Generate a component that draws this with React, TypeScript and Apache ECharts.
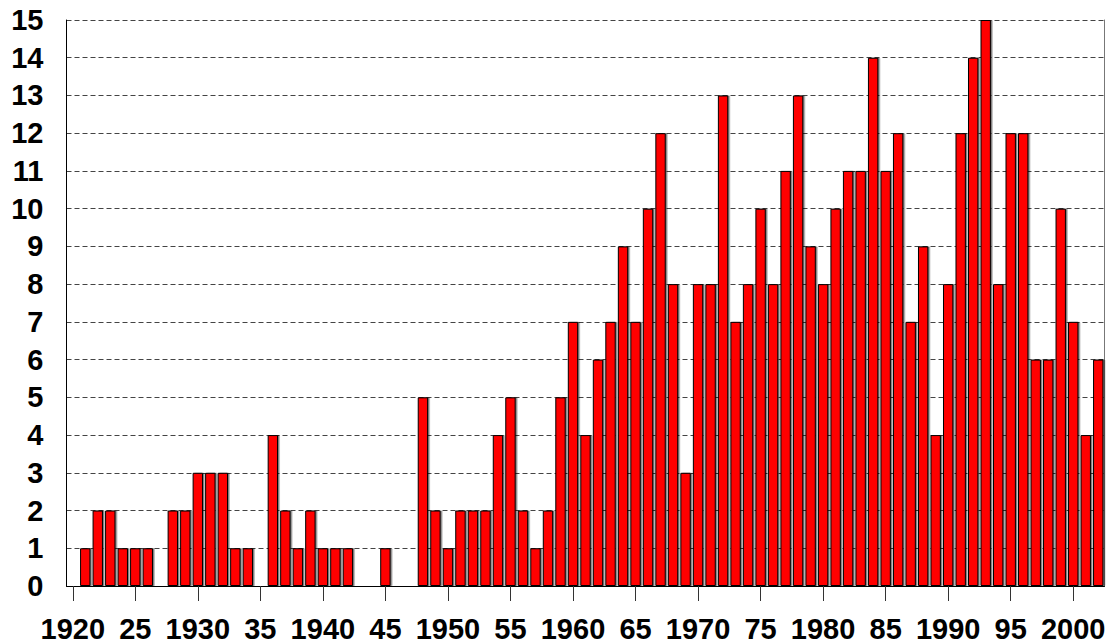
import React, { useEffect, useRef } from "react";
import * as echarts from "echarts";

const years: number[] = [];
for (let y = 1920; y <= 2002; y++) years.push(y);

const counts: number[] = [
  0, 1, 2, 2, 1, 1, 1, 0, 2, 2, // 1920-1929
  3, 3, 3, 1, 1, 0, 4, 2, 1, 2, // 1930-1939
  1, 1, 1, 0, 0, 1, 0, 0, 5, 2, // 1940-1949
  1, 2, 2, 2, 4, 5, 2, 1, 2, 5, // 1950-1959
  7, 4, 6, 7, 9, 7, 10, 12, 8, 3, // 1960-1969
  8, 8, 13, 7, 8, 10, 8, 11, 13, 9, // 1970-1979
  8, 10, 11, 11, 14, 11, 12, 7, 9, 4, // 1980-1989
  8, 12, 14, 15, 8, 12, 12, 6, 6, 10, // 1990-1999
  7, 4, 6, // 2000-2002
];

const yTicks = { min: 0, max: 15, interval: 1 };

const FONT = "'Liberation Sans', Arial, sans-serif";

export default function App() {
  const ref = useRef<HTMLDivElement>(null);
  useEffect(() => {
    if (!ref.current) return;
    const chart = echarts.init(ref.current, null, { renderer: "svg" });
    const isTick = (idx: number) => years[idx] % 5 === 0;
    chart.setOption({
      animation: false,
      backgroundColor: "#ffffff",
      grid: { left: 66.5, right: 7.5, top: 20, bottom: 57, containLabel: false },
      xAxis: {
        type: "category",
        data: years.map(String),
        boundaryGap: true,
        axisLine: { show: true, lineStyle: { color: "#000", width: 1 } },
        axisTick: {
          show: true,
          alignWithLabel: true,
          interval: (idx: number) => isTick(idx),
          length: 15,
          lineStyle: { color: "#333", width: 1 },
        },
        axisLabel: {
          interval: (idx: number) => isTick(idx),
          formatter: (v: string) => {
            const y = Number(v);
            return y % 10 === 0 ? String(y) : String(y % 100).padStart(2, "0");
          },
          color: "#000",
          fontSize: 29,
          fontWeight: "bold",
          fontFamily: FONT,
          margin: 28,
        },
        splitLine: { show: false },
      },
      yAxis: [
        {
          type: "value",
          min: yTicks.min,
          max: yTicks.max,
          interval: yTicks.interval,
          axisLine: { show: true, lineStyle: { color: "#000", width: 1 } },
          axisTick: { show: false },
          axisLabel: {
            color: "#000",
            fontSize: 29,
            fontWeight: "bold",
            fontFamily: FONT,
            margin: 23,
          },
          splitLine: {
            show: true,
            lineStyle: { color: "#444", width: 1, type: [5, 3] },
          },
        },
        {
          type: "value",
          position: "right",
          min: yTicks.min,
          max: yTicks.max,
          interval: yTicks.interval,
          axisLine: { show: true, lineStyle: { color: "#777", width: 1 } },
          axisTick: { show: false },
          axisLabel: { show: false },
          splitLine: { show: false },
        },
      ],
      series: [
        {
          type: "bar",
          data: counts,
          barCategoryGap: "17%",
          itemStyle: {
            color: "#ff0000",
            borderColor: "#000",
            borderWidth: 1,
            shadowColor: "rgba(0,0,0,0.5)",
            shadowOffsetX: 1.5,
            shadowOffsetY: 0,
            shadowBlur: 0,
          },
        },
      ],
    });
    return () => chart.dispose();
  }, []);
  return (
    <div
      ref={ref}
      style={{ position: "absolute", left: 0, top: 0, width: 1112, height: 643 }}
    />
  );
}
